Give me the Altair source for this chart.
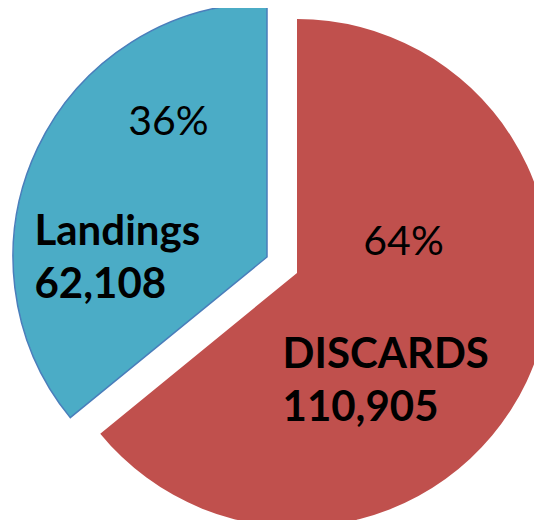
import altair as alt
import pandas as pd

# ---- data ----
categories = ["DISCARDS", "Landings"]
values = [110905, 62108]
order = [0, 1]
colors = ["#C0504D", "#4BACC6"]

df = pd.DataFrame({"category": categories, "value": values, "order": order})

# ---- style / layout ----
W, H = 526, 512
CX, CY = 274, 257          # pie centre in view pixels
R = 254                     # pie radius
FONT = "Lato"
FS = 41
FS_BOLD = 42
explode = {"DISCARDS": (15, 8), "Landings": (-15, -8)}
label_r = 150
pct_nudge = {"DISCARDS": (-29, -94), "Landings": (37, -70)}
name_nudge = {"DISCARDS": (-150, 31), "Landings": (-97, 52)}

base = (
    alt.Chart(df)
    .transform_joinaggregate(total="sum(value)")
    .transform_window(cum="sum(value)", sort=[alt.SortField("order")], frame=[None, 0])
    .transform_calculate(
        start="(datum.cum - datum.value) / datum.total * 2 * PI",
        end="datum.cum / datum.total * 2 * PI",
    )
    .transform_calculate(
        mid="(datum.start + datum.end) / 2",
        pct="format(datum.value / datum.total, '.0%')",
        name="[datum.category, format(datum.value, ',')]",
    )
)

color_enc = alt.Color(
    "category:N",
    scale=alt.Scale(domain=categories, range=colors),
    legend=None,
)

layers = []
for cat in categories:
    ex, ey = explode[cat]
    sub = base.transform_filter(alt.datum.category == cat)
    pos = dict(x=alt.value(CX + ex), y=alt.value(CY + ey))
    arc_kwargs = dict(outerRadius=R)
    if cat == "Landings":
        arc_kwargs.update(stroke="#4A7EBB", strokeWidth=1.5)
    arc = sub.mark_arc(**arc_kwargs).encode(
        theta=alt.Theta("start:Q", scale=None),
        theta2="end:Q",
        color=color_enc,
        **pos,
    )
    pdx, pdy = pct_nudge[cat]
    pct = sub.mark_text(
        font=FONT, fontSize=FS, color="black", align="center", baseline="middle",
        dx=pdx, dy=pdy,
    ).encode(
        theta=alt.Theta("mid:Q", scale=None),
        radius=alt.value(label_r),
        text="pct:N",
        **pos,
    )
    ndx, ndy = name_nudge[cat]
    name = sub.mark_text(
        font=FONT, fontSize=FS_BOLD, fontWeight="bold", color="black", align="left",
        baseline="alphabetic", lineHeight=53, dx=ndx, dy=ndy,
    ).encode(
        theta=alt.Theta("mid:Q", scale=None),
        radius=alt.value(label_r),
        text="name:N",
        **pos,
    )
    layers += [arc, pct, name]

chart = (
    alt.layer(*layers)
    .properties(width=W, height=H, autosize=alt.AutoSizeParams(type="none"), padding=0)
    .configure_view(stroke=None)
)

chart.save("out.html", embed_options={"renderer": "svg", "actions": False})
